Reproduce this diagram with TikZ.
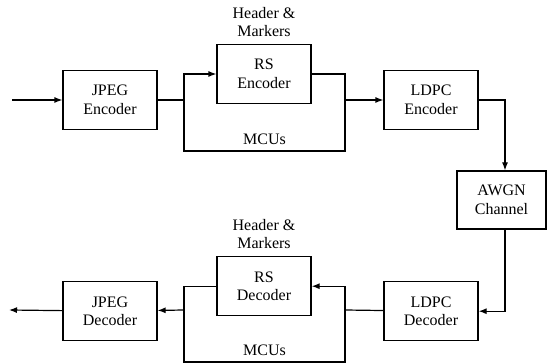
\documentclass[tikz,border=0pt]{standalone}
\usepackage{fontspec}
\setmainfont{Liberation Serif}
\usepackage{tikz}
\usetikzlibrary{arrows.meta,positioning,calc}

\begin{document}
\begin{tikzpicture}[
  x=1pt, y=1pt,
  font=\fontsize{16}{18.5}\selectfont,
  block/.style={draw, line width=1.2pt, minimum width=94pt, minimum height=59pt, align=center, inner sep=2pt},
  lbl/.style={inner sep=1pt, align=center},
  link/.style={line width=1.2pt},
  arr/.style={-{Latex[length=8pt,width=6pt]}, line width=1.2pt}
]
\useasboundingbox (0,0) rectangle (547,364);
\node[block] (je) at (110,264) {JPEG\\Encoder};
\node[block] (rse) at (264,290) {RS\\Encoder};
\node[block] (le) at (431,264) {LDPC\\Encoder};
\node[block, minimum width=89pt, minimum height=58pt] (ch) at (501.5,164) {AWGN\\Channel};
\node[block, below=151pt of je] (jd) {JPEG\\Decoder};
\node[block, below=152pt of rse] (rsd) {RS\\Decoder};
\node[block, below=151pt of le] (ld) {LDPC\\Decoder};
\node[lbl, above=6pt of rse] (hme) {Header \&\\Markers};
\node[lbl, above=6pt of rsd] (hmd) {Header \&\\Markers};

\coordinate (in) at (12,264);
\coordinate (se) at (184,264);
\coordinate (me) at (345,264);
\coordinate (be) at (0,213);
\coordinate (cx) at (505,0);
\coordinate (sd) at (345,54);
\coordinate (md) at (184,54);
\coordinate (bd) at (0,2);
\coordinate (out) at (9,54);

\draw[arr] (in) -- (je);
\draw[link] (je) -- (se);
\draw[arr] (se) |- (rse);
\draw[link] (rse) -| (me) -- (me |- be) -| (se);
\node[lbl, above=5pt] (mcue) at ($(se |- be)!0.5!(me |- be)$) {MCUs};
\draw[arr] (me) -- (le);
\draw[arr] (le) -| (cx |- ch.north);
\draw[arr] (cx |- ch.south) |- (ld);

\draw[link] (ld) -- (sd);
\draw[arr] (sd) |- (rsd);
\draw[link] (rsd) -| (md);
\draw[link] (sd) -- (sd |- bd) -| (md);
\node[lbl, above=5pt] (mcud) at ($(md |- bd)!0.5!(sd |- bd)$) {MCUs};
\draw[arr] (md) -- (jd);
\draw[arr] (jd) -- (out);
\end{tikzpicture}
\end{document}
